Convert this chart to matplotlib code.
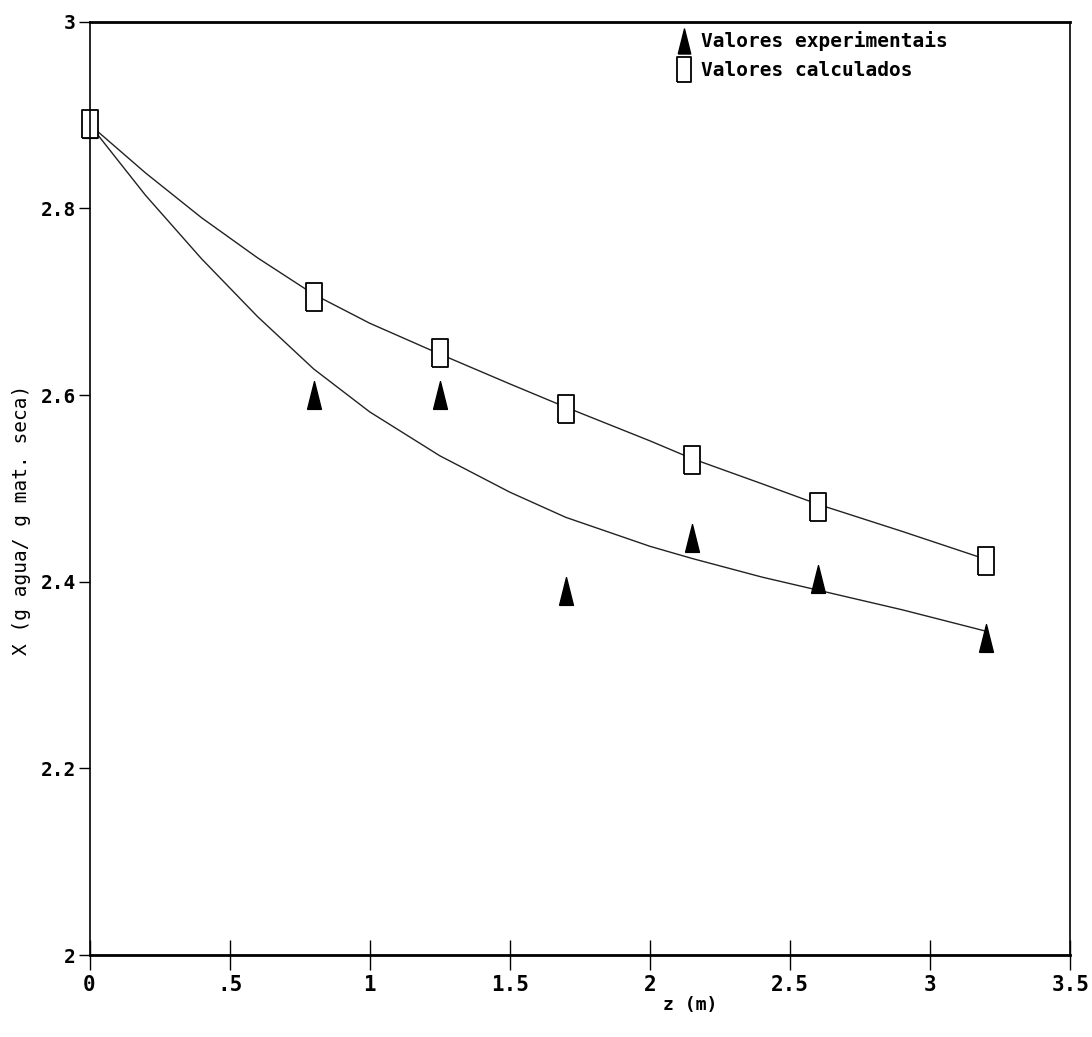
import matplotlib
matplotlib.use("Agg")
import matplotlib.pyplot as plt
import numpy as np

# measured points along the column
z_pts = [0.0, 0.8, 1.25, 1.7, 2.15, 2.6, 3.2]
x_exp = [2.89, 2.60, 2.60, 2.39, 2.447, 2.403, 2.34]
x_calc = [2.89, 2.705, 2.645, 2.585, 2.53, 2.48, 2.422]

# fitted curves
z_curve = [0.0, 0.2, 0.4, 0.6, 0.8, 1.0, 1.25, 1.5, 1.7, 2.0, 2.15, 2.4, 2.6, 2.9, 3.2]
fit_exp = [2.89, 2.814, 2.746, 2.684, 2.628, 2.582, 2.535, 2.496, 2.469, 2.438, 2.425,
           2.405, 2.391, 2.370, 2.347]
fit_calc = [2.89, 2.838, 2.79, 2.747, 2.708, 2.677, 2.644, 2.612, 2.587, 2.551, 2.532,
            2.505, 2.483, 2.454, 2.424]

x_ticks = [0, 0.5, 1, 1.5, 2, 2.5, 3, 3.5]
x_ticklabels = ["0", ".5", "1", "1.5", "2", "2.5", "3", "3.5"]
y_ticks = [2, 2.2, 2.4, 2.6, 2.8, 3]
y_ticklabels = ["2", "2.2", "2.4", "2.6", "2.8", "3"]

plt.rcParams['font.family'] = ['DejaVu Sans Mono']

# tall narrow markers like the plotter glyphs
tri = [(-0.5, -1), (0.5, -1), (0.0, 1), (-0.5, -1)]
box = [(-0.55, -1), (0.55, -1), (0.55, 1), (-0.55, 1), (-0.55, -1)]

fig = plt.figure(figsize=(10.92, 10.37), dpi=100)
ax = fig.add_axes([0.082, 0.079, 0.898, 0.9])

ax.plot(z_curve, fit_calc, color='#222222', lw=1.0)
ax.plot(z_curve, fit_exp, color='#222222', lw=1.0)
ax.plot(z_pts, x_exp, linestyle='none', marker=tri, ms=20, color='black',
        label='Valores experimentais', clip_on=False)
ax.plot(z_pts, x_calc, linestyle='none', marker=box, ms=20, mfc='white',
        mec='black', mew=1.3, label='Valores calculados', clip_on=False)

ax.set_xlim(0, 3.5)
ax.set_ylim(2, 3)
ax.set_xticks(x_ticks)
ax.set_xticklabels(x_ticklabels, fontsize=15, fontweight='bold')
ax.set_yticks(y_ticks)
ax.set_yticklabels(y_ticklabels, fontsize=14, fontweight='bold')
ax.tick_params(axis='x', direction='inout', length=22, width=1, pad=3)
ax.tick_params(axis='y', direction='out', length=8, width=1, pad=2)

for side in ['top', 'bottom']:
    ax.spines[side].set_linewidth(2)
for side in ['left', 'right']:
    ax.spines[side].set_linewidth(1.2)

ax.legend(loc='upper left', bbox_to_anchor=(0.588, 1.0), frameon=False,
          borderaxespad=0.1, handlelength=0.8, handletextpad=0.5,
          labelspacing=0.5, markerscale=0.9,
          prop={'size': 14, 'weight': 'bold'})

fig.text(690 / 1092, 1 - 1005 / 1037, "z (m)", fontsize=13, fontweight='bold',
         ha='center', va='center')
fig.text(22 / 1092, 1 - 520 / 1037, "X (g agua/ g mat. seca)", fontsize=14,
         rotation=90, ha='center', va='center')

plt.savefig("out.png", dpi=100)
